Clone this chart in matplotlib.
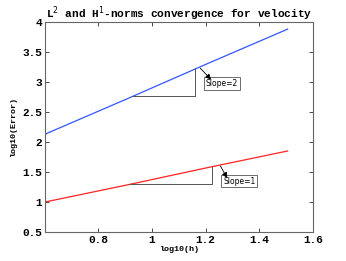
import numpy as np
import matplotlib
matplotlib.use("Agg")
import matplotlib.pyplot as plt

log_h = [0.602, 0.903, 1.204, 1.505]
err_h1 = [2.13, 2.71, 3.30, 3.88]
err_l2 = [1.00, 1.28, 1.57, 1.85]

xticks = [0.8, 1.0, 1.2, 1.4, 1.6]
xtick_labels = ["0.8", "1", "1.2", "1.4", "1.6"]
yticks = [0.5, 1, 1.5, 2, 2.5, 3, 3.5, 4]
ytick_labels = ["0.5", "1", "1.5", "2", "2.5", "3", "3.5", "4"]

mono = "Liberation Mono"

fig = plt.figure(figsize=(3.46, 2.61), dpi=100)
ax = fig.add_axes([0.130, 0.111, 0.775, 0.805])

ax.plot(log_h, err_h1, color="#3355ff", lw=0.9)
ax.plot(log_h, err_l2, color="#ff2222", lw=0.9)

# slope triangles
ax.plot([0.928, 1.16, 1.16], [2.77, 2.77, 3.24], color="#555555", lw=0.7)
ax.plot([0.917, 1.223, 1.223], [1.30, 1.30, 1.58], color="#555555", lw=0.7)

box = dict(boxstyle="square,pad=0.25", fc="white", ec="#555555", lw=0.6)
arrow = dict(arrowstyle="-|>", color="black", lw=0.6, mutation_scale=8,
             shrinkA=0, shrinkB=0)

ax.text(1.26, 2.98, "Slope=2", fontsize=5.5, ha="center", va="center", bbox=box)
ax.annotate("", xy=(1.22, 3.04), xytext=(1.18, 3.23), arrowprops=arrow)
ax.text(1.325, 1.35, "Slope=1", fontsize=5.5, ha="center", va="center", bbox=box)
ax.annotate("", xy=(1.28, 1.40), xytext=(1.255, 1.60), arrowprops=arrow)

ax.set_xlim(0.602, 1.6)
ax.set_ylim(0.5, 4)
ax.set_xticks(xticks)
ax.set_xticklabels(xtick_labels, fontfamily=mono, fontweight="bold", fontsize=8)
ax.set_yticks(yticks)
ax.set_yticklabels(ytick_labels, fontfamily=mono, fontweight="bold", fontsize=8)
ax.tick_params(direction="in", top=True, right=True, length=3, width=0.5, pad=2)
for s in ax.spines.values():
    s.set_color("#666666")
    s.set_linewidth(0.8)

ax.set_xlabel("log10(h)", fontfamily=mono, fontweight="bold", fontsize=6, labelpad=1)
ax.set_ylabel("log10(Error)", fontfamily=mono, fontweight="bold", fontsize=6, labelpad=4)
ax.set_title(r"L$^2$ and H$^1$-norms convergence for velocity",
             fontfamily=mono, fontweight="bold", fontsize=8, pad=3)

fig.savefig("out.png", dpi=100)
